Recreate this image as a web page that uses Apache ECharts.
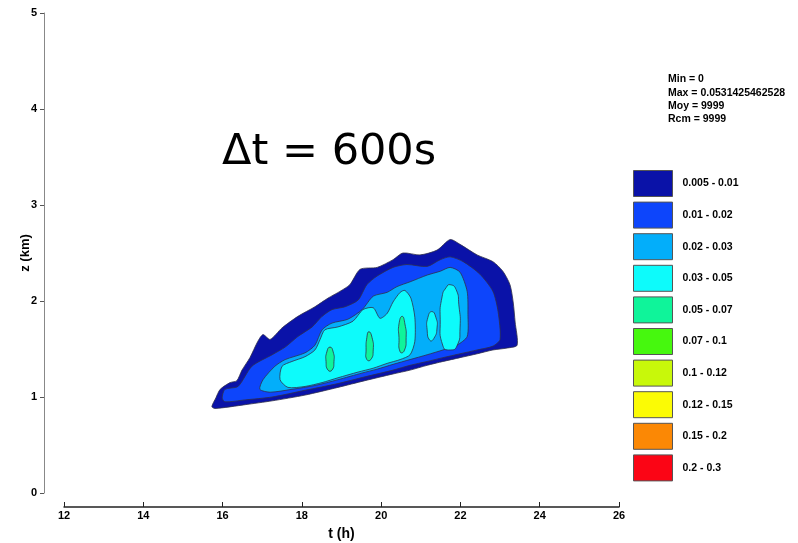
<!DOCTYPE html>
<html>
<head>
<meta charset="utf-8">
<script src="https://cdn.jsdelivr.net/npm/echarts@6/dist/echarts.min.js"></script>
<style>
  html, body { margin: 0; padding: 0; background: #fff; }
  #chart { width: 798px; height: 543px; }
</style>
</head>
<body>
<div id="chart"></div>
<script>
// legend classes
const levelLabels = ['0.005 - 0.01', '0.01 - 0.02', '0.02 - 0.03', '0.03 - 0.05', '0.05 - 0.07',
  '0.07 - 0.1', '0.1 - 0.12', '0.12 - 0.15', '0.15 - 0.2', '0.2 - 0.3'];
const levelColors = ['#0a12a8', '#0d45fb', '#03aefa', '#0dfbfb', '#0ff49a',
  '#46f80e', '#c8f80a', '#fbfb05', '#fb8805', '#fb0515'];

const xTicks = [12, 14, 16, 18, 20, 22, 24, 26];
const yTicks = [0, 1, 2, 3, 4, 5];

const statLines = ['Min = 0', 'Max = 0.0531425462528', 'Moy = 9999', 'Rcm = 9999'];

// contour outlines, [t (h), z (km)]
const contour005 = [
  [15.73, 0.90], [15.83, 0.99], [15.94, 1.08], [16.19, 1.15], [16.36, 1.17], [16.49, 1.28],
  [16.69, 1.41], [16.89, 1.58], [17.02, 1.65], [17.20, 1.60], [17.50, 1.72], [17.90, 1.84],
  [18.33, 1.94], [18.66, 2.03], [18.96, 2.10], [19.21, 2.17], [19.47, 2.33], [19.90, 2.35],
  [20.30, 2.43], [20.55, 2.50], [20.98, 2.48], [21.41, 2.53], [21.74, 2.64], [21.99, 2.59],
  [22.42, 2.48], [22.82, 2.41], [23.07, 2.31], [23.25, 2.17], [23.33, 1.99], [23.38, 1.78],
  [23.43, 1.54], [23.18, 1.51], [22.82, 1.49], [22.42, 1.45], [21.99, 1.41], [21.56, 1.37],
  [21.16, 1.33], [20.73, 1.28], [20.30, 1.24], [19.59, 1.17], [18.91, 1.10], [18.08, 1.02],
  [17.25, 0.96], [16.57, 0.92], [15.81, 0.88]
];
const contour01 = [
  [15.99, 0.99], [16.06, 1.08], [16.39, 1.11], [16.74, 1.32], [17.25, 1.44], [17.58, 1.52],
  [17.90, 1.63], [18.26, 1.73], [18.51, 1.84], [18.76, 1.91], [19.09, 1.94], [19.42, 2.01],
  [19.64, 2.17], [19.90, 2.26], [20.30, 2.35], [20.65, 2.38], [21.16, 2.36], [21.49, 2.43],
  [21.74, 2.46], [22.07, 2.41], [22.49, 2.28], [22.82, 2.10], [22.95, 1.89], [23.00, 1.60],
  [22.82, 1.53], [22.42, 1.49], [21.99, 1.45], [21.56, 1.41], [21.16, 1.37], [20.73, 1.33],
  [20.30, 1.28], [19.59, 1.21], [18.91, 1.14], [18.08, 1.07], [17.25, 1.00], [16.57, 0.97],
  [16.06, 0.95]
];
const contour02 = [
  [16.94, 1.08], [17.02, 1.18], [17.32, 1.32], [17.58, 1.39], [18.08, 1.46], [18.33, 1.54],
  [18.51, 1.70], [18.76, 1.77], [19.16, 1.81], [19.52, 1.91], [19.80, 2.05], [20.15, 2.09],
  [20.40, 2.15], [20.73, 2.20], [21.16, 2.27], [21.49, 2.31], [21.74, 2.35], [21.99, 2.30],
  [22.17, 2.10], [22.19, 1.86], [22.17, 1.63], [21.91, 1.54], [21.56, 1.49], [21.16, 1.44],
  [20.73, 1.39], [20.30, 1.34], [19.90, 1.29], [19.52, 1.25], [18.91, 1.18], [18.33, 1.12],
  [17.75, 1.08], [17.20, 1.05]
];
const contour03 = [
  [
    [17.45, 1.18], [17.50, 1.32], [17.75, 1.37], [18.08, 1.42], [18.33, 1.49], [18.46, 1.60],
    [18.58, 1.70], [18.91, 1.73], [19.29, 1.79], [19.54, 1.91], [19.80, 1.93], [19.97, 1.82],
    [20.15, 1.87], [20.30, 1.99], [20.48, 2.09], [20.60, 2.11], [20.75, 2.03], [20.85, 1.83],
    [20.85, 1.58], [20.73, 1.44], [20.48, 1.39], [20.15, 1.35], [19.80, 1.30], [19.42, 1.26],
    [18.91, 1.20], [18.51, 1.15], [18.08, 1.11], [17.65, 1.10]
  ],
  [[21.28, 1.89], [21.38, 1.83], [21.41, 1.72], [21.33, 1.61], [21.23, 1.59], [21.16, 1.70], [21.18, 1.83]],
  [[21.74, 2.17], [21.89, 2.12], [21.96, 1.96], [21.99, 1.72], [21.91, 1.53], [21.74, 1.49],
   [21.56, 1.53], [21.49, 1.81], [21.54, 2.05], [21.64, 2.14]]
];
const contour05 = [
  [[18.71, 1.52], [18.79, 1.47], [18.81, 1.37], [18.76, 1.28], [18.66, 1.28], [18.61, 1.37], [18.63, 1.47]],
  [[19.69, 1.68], [19.77, 1.62], [19.80, 1.49], [19.74, 1.39], [19.64, 1.39], [19.62, 1.49], [19.64, 1.62]],
  [[20.53, 1.84], [20.60, 1.76], [20.63, 1.62], [20.58, 1.48], [20.48, 1.47], [20.45, 1.62], [20.45, 1.76]]
];

const levelPolygons = [[contour005], [contour01], [contour02], contour03, contour05, [], [], [], [], []];

const chart = echarts.init(document.getElementById('chart'));

const axisFont = { color: '#000', fontFamily: 'Liberation Sans, Arial, sans-serif', fontWeight: 'bold', fontSize: 11 };

const series = levelLabels.map((name, k) => ({
  name: name,
  type: 'custom',
  coordinateSystem: 'cartesian2d',
  itemStyle: { color: levelColors[k] },
  data: levelPolygons[k].map((poly, i) => [poly[0][0], poly[0][1], i]),
  renderItem: function (params, api) {
    const poly = levelPolygons[k][params.dataIndex];
    const pts = poly.map(p => api.coord(p));
    return {
      type: 'polygon',
      shape: { points: pts, smooth: poly.length > 12 ? 0.25 : 0.6 },
      style: { fill: levelColors[k], stroke: '#30304a', lineWidth: 0.8 }
    };
  }
}));

const statText = statLines.map((s, i) => ({
  type: 'text', left: 668, top: 74 + i * 13.2,
  style: { text: s, fill: '#000', font: 'bold 10.5px "Liberation Sans", Arial, sans-serif' }
}));

chart.setOption({
  backgroundColor: '#fff',
  animation: false,
  grid: { left: 64, right: 179, top: 13, bottom: 50, outerBoundsMode: 'none', containLabel: false },
  xAxis: {
    type: 'value', min: xTicks[0], max: xTicks[xTicks.length - 1], interval: 2,
    offset: 14,
    name: 't (h)', nameLocation: 'middle', nameGap: 20,
    nameTextStyle: { color: '#000', fontFamily: 'Liberation Sans, Arial, sans-serif', fontWeight: 'bold', fontSize: 14 },
    axisLine: { show: true, onZero: false, lineStyle: { color: '#222', width: 1.5 } },
    axisTick: { show: true, inside: true, length: 5, lineStyle: { color: '#222' } },
    axisLabel: Object.assign({ margin: 3 }, axisFont),
    splitLine: { show: false }
  },
  yAxis: {
    type: 'value', min: yTicks[0], max: yTicks[yTicks.length - 1], interval: 1,
    offset: 20,
    name: 'z (km)', nameLocation: 'middle', nameGap: 12, nameRotate: 90, nameMoveOverlap: false,
    nameTextStyle: { color: '#000', fontFamily: 'Liberation Sans, Arial, sans-serif', fontWeight: 'bold', fontSize: 13 },
    axisLine: { show: true, onZero: false, lineStyle: { color: '#888', width: 1 } },
    axisTick: { show: true, length: 4, lineStyle: { color: '#555' } },
    axisLabel: Object.assign({ margin: 7 }, axisFont),
    splitLine: { show: false }
  },
  legend: {
    orient: 'vertical', left: 633, top: 170, padding: 0,
    itemWidth: 39, itemHeight: 26, itemGap: 4.6,
    icon: 'rect', selectedMode: false,
    itemStyle: { borderColor: '#555', borderWidth: 1 },
    textStyle: { color: '#000', fontFamily: 'Liberation Sans, Arial, sans-serif', fontWeight: 'bold', fontSize: 10.5, padding: [0, 0, 0, 5] },
    data: levelLabels
  },
  graphic: [
    {
      type: 'text', left: 222, top: 131,
      style: { text: '\u0394t = 600s', fill: '#000', font: '43px "Comic Sans MS", "DejaVu Sans", sans-serif' }
    }
  ].concat(statText),
  series: series
});
</script>
</body>
</html>
